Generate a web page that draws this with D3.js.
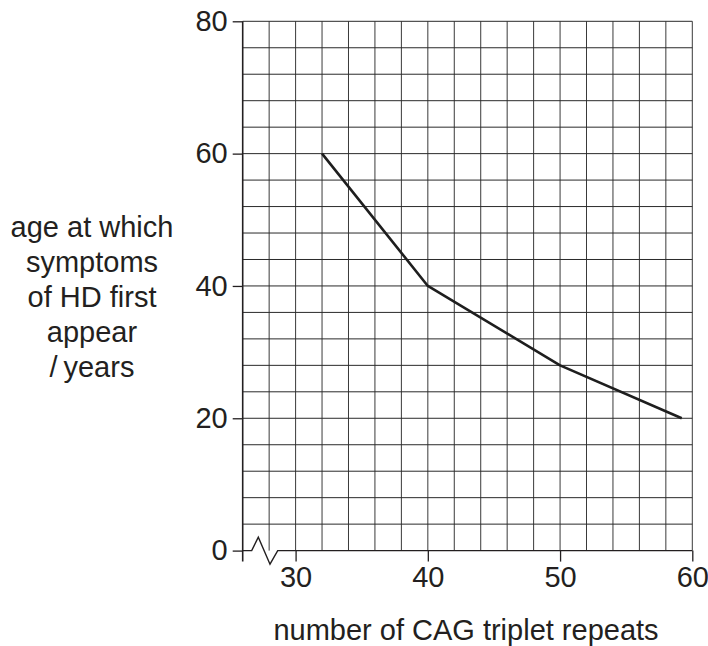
<!DOCTYPE html>
<html>
<head>
<meta charset="utf-8">
<script src="https://cdn.jsdelivr.net/npm/d3@7"></script>
<style>
  body { margin: 0; background: #fff; }
  svg text { font-family: "Liberation Sans", Arial, sans-serif; fill: #231f20; }
</style>
</head>
<body>
<svg id="chart" width="708" height="646"></svg>
<script>
// Data
var repeats = [32, 40, 50, 59.2];
var ages = [60, 40, 28, 20];
var xTicks = [30, 40, 50, 60];
var yTicks = [0, 20, 40, 60, 80];
var yLabelLines = ["age at which", "symptoms", "of HD first", "appear", "/\u2009years"];
var xLabel = "number of CAG triplet repeats";

var svg = d3.select("#chart");
var ink = "#231f20";

// Scales (x axis starts at 26, broken)
var x = d3.scaleLinear().domain([26, 60]).range([242.7, 692.3]);
var y = d3.scaleLinear().domain([0, 80]).range([550.6, 21.3]);

// Grid: columns every 2 repeats, rows every 4 years
var grid = svg.append("g").attr("class", "grid");
grid.selectAll("line.v")
  .data(d3.range(28, 60.01, 2))
  .enter().append("line")
  .attr("x1", function (d) { return x(d); })
  .attr("x2", function (d) { return x(d); })
  .attr("y1", y(80)).attr("y2", y(0))
  .style("stroke", "#3a3a3a").style("stroke-width", 1);
grid.selectAll("line.h")
  .data(d3.range(4, 80.01, 4))
  .enter().append("line")
  .attr("x1", x(26)).attr("x2", x(60))
  .attr("y1", function (d) { return y(d); })
  .attr("y2", function (d) { return y(d); })
  .style("stroke", "#2a2a2a").style("stroke-width", 1);

// Curve
svg.append("path")
  .attr("d", d3.line()
    .x(function (d, i) { return x(repeats[i]); })
    .y(function (d, i) { return y(ages[i]); })(repeats))
  .style("fill", "none")
  .style("stroke", "#1e1e1e")
  .style("stroke-width", 2.6)
  .style("stroke-linejoin", "round");

// Y axis
var yAxis = svg.append("g")
  .attr("transform", "translate(" + x(26) + ",0)")
  .call(d3.axisLeft(y).tickValues(yTicks).tickSize(10).tickPadding(5));
yAxis.select(".domain").remove();
yAxis.selectAll("line").style("stroke", ink).style("stroke-width", 1.3);
yAxis.selectAll("text").style("font-size", "29px");

// X axis
var xAxis = svg.append("g")
  .attr("transform", "translate(0," + y(0) + ")")
  .call(d3.axisBottom(x).tickValues(xTicks).tickSize(11).tickPadding(5));
xAxis.select(".domain").remove();
xAxis.selectAll("line").style("stroke", ink).style("stroke-width", 1.3);
xAxis.selectAll("text").style("font-size", "29px");

// Axis lines with the break symbol
var x0 = x(26), y0 = y(0);
svg.append("line")
  .attr("x1", x0).attr("x2", x0)
  .attr("y1", y(80)).attr("y2", y0 + 11)
  .style("stroke", ink).style("stroke-width", 1.6);
svg.append("path")
  .attr("d", "M" + x0 + "," + y0 +
    "L" + (x0 + 9) + "," + y0 +
    "L" + (x0 + 15.6) + "," + (y0 - 13.4) +
    "L" + (x0 + 27.3) + "," + (y0 + 13.6) +
    "L" + (x0 + 35) + "," + y0 +
    "L" + x(60) + "," + y0)
  .style("fill", "none").style("stroke", ink).style("stroke-width", 1.4);

// Axis titles
svg.append("text")
  .attr("x", 466).attr("y", 640)
  .attr("text-anchor", "middle")
  .style("font-size", "29px")
  .text(xLabel);

svg.append("g").selectAll("text")
  .data(yLabelLines)
  .enter().append("text")
  .attr("x", 92)
  .attr("y", function (d, i) { return 237 + i * 35; })
  .attr("text-anchor", "middle")
  .style("font-size", "29px")
  .text(function (d) { return d; });
</script>
</body>
</html>
